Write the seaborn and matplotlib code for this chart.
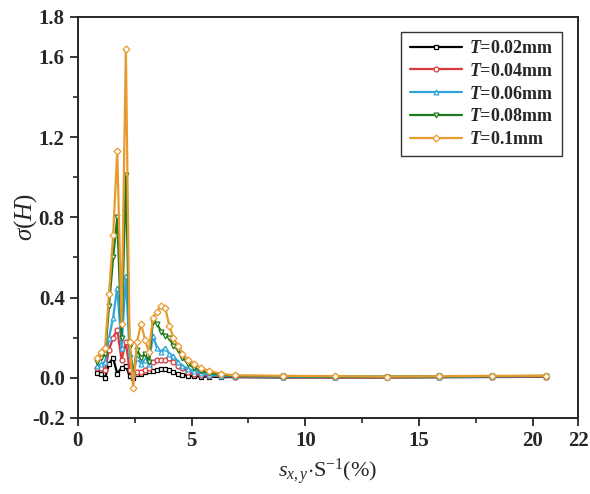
import matplotlib
matplotlib.use('Agg')
import matplotlib.pyplot as plt
import seaborn as sns
import numpy as np
from matplotlib.ticker import FixedLocator

# strain ratio s_xy / S (%)
x = [0.85, 1.03, 1.2, 1.37, 1.55, 1.73, 1.92, 2.11, 2.27, 2.43, 2.6, 2.78,
     2.95, 3.12, 3.3, 3.48, 3.66, 3.84, 4.02, 4.2, 4.4, 4.6, 4.85, 5.1,
     5.4, 5.75, 6.3, 6.9, 9.0, 11.3, 13.6, 15.9, 18.2, 20.6]

t002 = [0.025, 0.02, 0.0, 0.07, 0.10, 0.02, 0.05, 0.06, 0.01, 0.0, 0.02, 0.02,
        0.03, 0.035, 0.035, 0.04, 0.045, 0.045, 0.04, 0.03, 0.02, 0.015, 0.01, 0.008,
        0.006, 0.005, 0.004, 0.003, 0.002, 0.002, 0.002, 0.003, 0.004, 0.005]
t004 = [0.05, 0.05, 0.04, 0.14, 0.20, 0.24, 0.09, 0.18, 0.04, 0.02, 0.03, 0.03,
        0.04, 0.05, 0.08, 0.09, 0.09, 0.09, 0.10, 0.08, 0.06, 0.05, 0.03, 0.02,
        0.015, 0.01, 0.008, 0.005, 0.004, 0.003, 0.003, 0.004, 0.005, 0.006]
t006 = [0.06, 0.07, 0.08, 0.20, 0.30, 0.45, 0.15, 0.51, 0.12, 0.02, 0.10, 0.07,
        0.09, 0.07, 0.21, 0.15, 0.13, 0.15, 0.12, 0.11, 0.08, 0.06, 0.045, 0.035,
        0.025, 0.015, 0.01, 0.008, 0.006, 0.005, 0.005, 0.006, 0.007, 0.008]
t008 = [0.08, 0.10, 0.12, 0.36, 0.60, 0.80, 0.20, 1.01, 0.16, 0.02, 0.14, 0.10,
        0.12, 0.08, 0.28, 0.27, 0.23, 0.21, 0.20, 0.16, 0.14, 0.10, 0.07, 0.05,
        0.035, 0.025, 0.015, 0.01, 0.008, 0.006, 0.006, 0.007, 0.008, 0.01]
t010 = [0.10, 0.13, 0.15, 0.42, 0.71, 1.13, 0.27, 1.64, 0.18, -0.05, 0.18, 0.27,
        0.19, 0.13, 0.30, 0.33, 0.36, 0.35, 0.26, 0.20, 0.16, 0.12, 0.09, 0.07,
        0.05, 0.035, 0.02, 0.012, 0.01, 0.008, 0.006, 0.008, 0.01, 0.01]

labels = ['0.02', '0.04', '0.06', '0.08', '0.1']
series = [t002, t004, t006, t008, t010]
colors = ['#000000', '#d8383a', '#2ea6dc', '#1f7a1f', '#e89a2e']
markers = ['s', 'o', '^', 'v', 'D']

sns.set_style('ticks')
plt.rcParams['font.family'] = ['Liberation Serif', 'DejaVu Serif']
plt.rcParams['mathtext.fontset'] = 'custom'
plt.rcParams['mathtext.rm'] = 'Liberation Serif'
plt.rcParams['mathtext.it'] = 'Liberation Serif:italic'
plt.rcParams['mathtext.bf'] = 'Liberation Serif:bold:italic'

fig, ax = plt.subplots(figsize=(5.9, 4.94), dpi=100)
fig.subplots_adjust(left=0.132, right=0.98, bottom=0.154, top=0.966)

for y, lab, c, m in zip(series, labels, colors, markers):
    sns.lineplot(x=x, y=y, ax=ax, color=c, marker=m, markersize=3.5,
                 markerfacecolor='white', markeredgecolor=c, markeredgewidth=0.9,
                 linewidth=1.6, sort=False, label=r'$\mathbf{T}$=' + lab + 'mm')

ax.set_xlim(0, 22)
ax.set_ylim(-0.2, 1.8)
ax.set_xticks([0, 5, 10, 15, 20, 22])
ax.set_yticks([-0.2, 0.0, 0.4, 0.8, 1.2, 1.6, 1.8])
ax.set_yticklabels(['-0.2', '0.0', '0.4', '0.8', '1.2', '1.6', '1.8'])
ax.xaxis.set_minor_locator(FixedLocator([2.5, 7.5, 12.5, 17.5]))
ax.yaxis.set_minor_locator(FixedLocator([0.2, 0.6, 1.0, 1.4]))
ax.tick_params(which='major', direction='out', length=6, width=1.3, labelsize=15)
ax.tick_params(which='minor', direction='out', length=3.5, width=1.2)
for lab in ax.get_xticklabels() + ax.get_yticklabels():
    lab.set_fontweight('bold')
for s in ax.spines.values():
    s.set_visible(True)
    s.set_linewidth(1.4)

ax.set_xlabel(r'$s_{x,y}$$\cdot$S$^{-1}$(%)', fontsize=16, labelpad=4)
ax.set_ylabel(r'$\sigma$($H$)', fontsize=18)
ax.yaxis.set_label_coords(-0.078, 0.5)

leg = ax.legend(loc='upper right', bbox_to_anchor=(0.985, 0.985), frameon=True,
                fancybox=False, edgecolor='black', handlelength=2.9,
                handletextpad=0.4, labelspacing=0.32, borderpad=0.45,
                prop={'weight': 'bold', 'size': 13})
leg.get_frame().set_linewidth(1.0)

fig.savefig('out.png', dpi=100)
